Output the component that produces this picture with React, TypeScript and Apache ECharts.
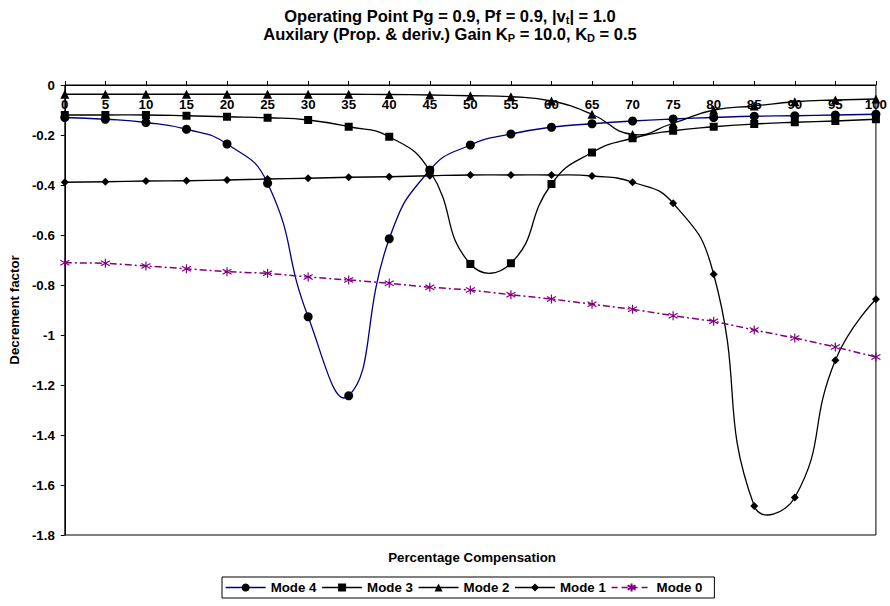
import React, { useEffect, useRef } from "react";
import * as echarts from "echarts";

const compensation = [0, 5, 10, 15, 20, 25, 30, 35, 40, 45, 50, 55, 60, 65, 70, 75, 80, 85, 90, 95, 100];

const mode4 = [-0.13, -0.137, -0.15, -0.177, -0.236, -0.393, -0.927, -1.243, -0.615, -0.34, -0.24, -0.196, -0.169, -0.155, -0.144, -0.136, -0.13, -0.125, -0.123, -0.12, -0.117];
const mode3 = [-0.12, -0.12, -0.12, -0.123, -0.127, -0.131, -0.14, -0.167, -0.207, -0.343, -0.716, -0.713, -0.396, -0.27, -0.213, -0.183, -0.167, -0.156, -0.149, -0.144, -0.137];
const mode2 = [-0.037, -0.037, -0.037, -0.037, -0.037, -0.037, -0.037, -0.037, -0.038, -0.04, -0.043, -0.047, -0.064, -0.117, -0.198, -0.153, -0.1, -0.084, -0.067, -0.06, -0.056];
const mode1 = [-0.389, -0.387, -0.384, -0.383, -0.38, -0.376, -0.373, -0.369, -0.367, -0.363, -0.36, -0.36, -0.36, -0.364, -0.389, -0.473, -0.757, -1.684, -1.65, -1.101, -0.857];
const mode0 = [-0.711, -0.713, -0.724, -0.735, -0.747, -0.753, -0.768, -0.78, -0.793, -0.809, -0.82, -0.839, -0.856, -0.877, -0.897, -0.923, -0.945, -0.98, -1.012, -1.048, -1.088];

const seriesNames = ["Mode 4", "Mode 3", "Mode 2", "Mode 1", "Mode 0"];
const titleLine1 = "Operating Point Pg = 0.9, Pf = 0.9, |v{s|t}| = 1.0";
const titleLine2 = "Auxilary (Prop. & deriv.) Gain K{s|P} = 10.0, K{s|D} = 0.5";
const xName = "Percentage Compensation";
const yName = "Decrement factor";

const FONT = "'Liberation Sans', Arial, sans-serif";
const asterisk = "path://M5 0 L5 10 M0.8 2.2 L9.2 7.8 M0.8 7.8 L9.2 2.2";
const NAVY = "#000080";
const PURPLE = "#800080";

const pairs = (ys: number[]) => compensation.map((x, i) => [x, ys[i]]);

const curve = (name: string, ys: number[], color: string) => ({
  type: "custom",
  name: name + " curve",
  data: pairs(ys),
  encode: { x: 0, y: 1 },
  z: 2,
  silent: true,
  renderItem: (params: any, api: any) => {
    if (params.dataIndex !== 0) return null;
    const pts = compensation.map((x, i) => api.coord([x, ys[i]]));
    return {
      type: "polyline",
      shape: { points: pts, smooth: 0.5 },
      style: { stroke: color, lineWidth: 1.3, fill: "none" },
    };
  },
});

const markers = (name: string, ys: number[], symbol: string, size: number) => ({
  type: "line",
  name,
  data: pairs(ys),
  symbol,
  symbolSize: size,
  clip: false,
  z: 3,
  itemStyle: { color: "#000" },
  lineStyle: { opacity: 0, width: 0 },
});

const titleText = (text: string, y: number) => ({
  type: "text",
  x: 450,
  y,
  style: {
    text,
    fontFamily: FONT,
    fontSize: 16.5,
    fontWeight: "bold",
    fill: "#000",
    align: "center",
    verticalAlign: "middle",
    lineHeight: 18,
    rich: {
      s: { fontFamily: FONT, fontSize: 11, fontWeight: "bold", fill: "#000", verticalAlign: "bottom", lineHeight: 10 },
    },
  },
});

export default function App() {
  const ref = useRef<HTMLDivElement>(null);
  useEffect(() => {
    const chart = echarts.init(ref.current as HTMLDivElement, null, { renderer: "svg" });
    const legendLine = (color: string, type: any = "solid") => ({ color, width: 1.3, opacity: 1, type });
    chart.setOption({
      animation: false,
      backgroundColor: "#fff",
      textStyle: { fontFamily: FONT },
      graphic: [
        titleText(titleLine1, 16),
        titleText(titleLine2, 34),
        {
          type: "text",
          x: 472,
          y: 557,
          style: {
            text: xName,
            fontFamily: FONT,
            fontSize: 13.3,
            fontWeight: "bold",
            fill: "#000",
            align: "center",
            verticalAlign: "middle",
          },
        },
      ],
      legend: {
        data: [
          { name: seriesNames[0], lineStyle: legendLine(NAVY) },
          { name: seriesNames[1], lineStyle: legendLine("#000") },
          { name: seriesNames[2], lineStyle: legendLine("#000") },
          { name: seriesNames[3], lineStyle: legendLine("#000") },
          { name: seriesNames[4], lineStyle: { color: PURPLE, width: 1.5, opacity: 1, type: [6, 4] } },
        ],
        left: 222,
        top: 577,
        orient: "horizontal",
        padding: [4, 12, 4, 3],
        borderColor: "#000",
        borderWidth: 1,
        itemWidth: 40,
        itemHeight: 10,
        itemGap: 5,
        textStyle: { fontFamily: FONT, fontSize: 13.3, fontWeight: "bold", color: "#000" },
      },
      grid: {
        left: 63,
        top: 85,
        right: 8,
        bottom: 71,
        show: true,
        borderColor: "#000",
        borderWidth: 1,
        backgroundColor: "transparent",
      },
      xAxis: {
        type: "value",
        position: "top",
        min: 0,
        max: 100,
        interval: 5,
        axisLine: { show: true, lineStyle: { color: "#000", width: 1 } },
        axisTick: { show: true, inside: false, length: 4, lineStyle: { color: "#000" } },
        axisLabel: { inside: true, margin: 13, fontFamily: FONT, fontSize: 13.3, fontWeight: "bold", color: "#000" },
        splitLine: { show: false },
      },
      yAxis: {
        type: "value",
        min: -1.8,
        max: 0,
        interval: 0.2,
        name: yName,
        nameLocation: "middle",
        nameGap: 42,
        nameTextStyle: { fontFamily: FONT, fontSize: 13.3, fontWeight: "bold", color: "#000" },
        axisLine: { show: true, lineStyle: { color: "#000", width: 1 } },
        axisTick: { show: true, inside: false, length: 4, lineStyle: { color: "#000" } },
        axisLabel: { margin: 10, fontFamily: FONT, fontSize: 13.3, fontWeight: "bold", color: "#000" },
        splitLine: { show: false },
      },
      series: [
        curve(seriesNames[0], mode4, NAVY),
        curve(seriesNames[1], mode3, "#000"),
        curve(seriesNames[2], mode2, "#000"),
        curve(seriesNames[3], mode1, "#000"),
        markers(seriesNames[0], mode4, "circle", 9),
        markers(seriesNames[1], mode3, "rect", 8),
        markers(seriesNames[2], mode2, "triangle", 9),
        markers(seriesNames[3], mode1, "diamond", 8),
        {
          type: "line",
          name: seriesNames[4],
          data: pairs(mode0),
          smooth: false,
          clip: false,
          z: 3,
          symbol: asterisk,
          symbolSize: 9,
          itemStyle: { color: "transparent", borderColor: PURPLE, borderWidth: 1.2 },
          lineStyle: { color: PURPLE, width: 1.5, type: [7, 3, 2, 3] },
        },
      ],
    });
    return () => chart.dispose();
  }, []);
  return <div ref={ref} style={{ position: "fixed", left: 0, top: 0, width: 890, height: 606 }} />;
}
